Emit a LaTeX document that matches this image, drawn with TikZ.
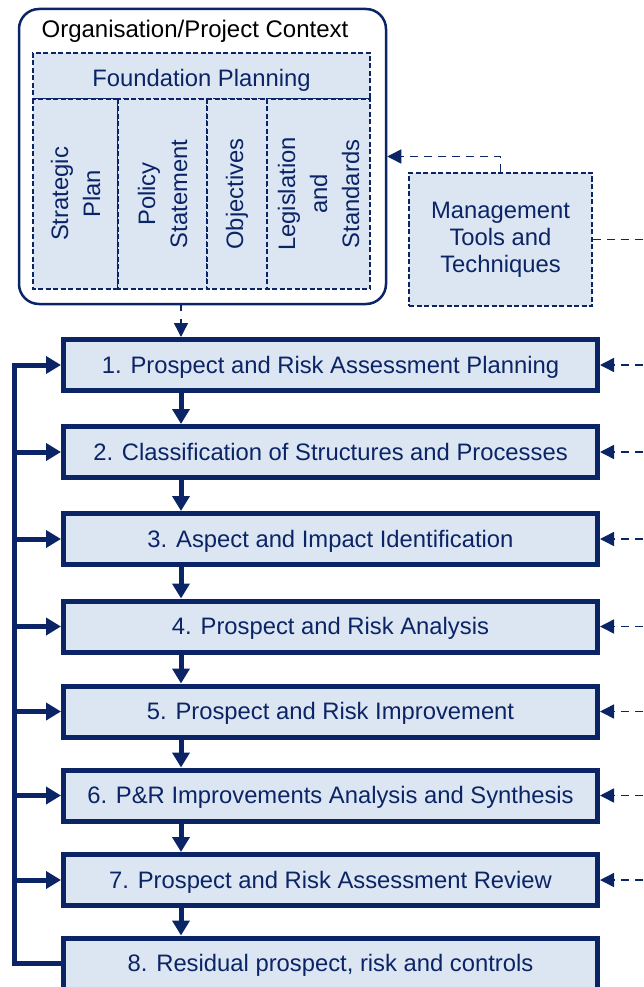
\documentclass[tikz,border=0pt]{standalone}
\usepackage{fontspec}
\setmainfont{Liberation Sans}
\usetikzlibrary{arrows.meta,positioning}
\definecolor{navy}{HTML}{0B2466}
\definecolor{paleblue}{HTML}{DCE6F2}

\begin{document}
\begin{tikzpicture}[x=1pt,y=-1pt,
	every node/.style={font=\fontsize{23.8}{27}\selectfont,text=navy},
	cell/.style={draw=navy,fill=paleblue,dash pattern=on 5pt off 2.5pt,line width=1.3pt,inner sep=0pt},
	vcell/.style={cell,rotate=90,align=center,font=\fontsize{23.8}{32}\selectfont},
	stage/.style={draw=navy,fill=paleblue,line width=5pt,minimum width=534pt,minimum height=51pt,inner sep=0pt,text height=16.5pt,text depth=0pt},
	flow/.style={navy,line width=5pt,-{Triangle[width=17pt,length=15pt]}},
	feed/.style={navy,dashed,dash pattern=on 8pt off 6pt,line width=1.5pt,-{Triangle[width=14pt,length=14pt]}}]
		\useasboundingbox (0,0) rectangle (643,987);
		\node[draw=navy,line width=2.5pt,rounded corners=20pt,minimum width=367pt,minimum height=295pt] (org) at (202.5,156.5) {};
		\node[anchor=base,text=black,font=\fontsize{24}{27}\selectfont] (ctx) at (195,38) {Organisation/Project Context};
		\node[cell,minimum width=337pt,minimum height=46pt,text height=22pt,text depth=0pt] (found) at (201.5,76) {Foundation Planning};
		\node[vcell,minimum width=190pt,minimum height=85pt] (plan) at (75.5,194) {Strategic\\Plan};
		\node[vcell,minimum width=190pt,minimum height=89pt] (policy) at (162.5,194) {Policy\\Statement};
		\node[vcell,minimum width=190pt,minimum height=60pt] (obj) at (237,194) {Objectives};
		\node[vcell,minimum width=190pt,minimum height=103pt] (legis) at (318.5,194) {Legislation\\and\\Standards};
		\node[cell,align=center,minimum width=183pt,minimum height=133pt] (tools) at (500.5,239.5) {Management\\Tools and\\Techniques};
		\node[stage] (s1) at (330.5,365) {1. Prospect and Risk Assessment Planning};
		\node[stage] (s2) at (330.5,452) {2. Classification of Structures and Processes};
		\node[stage] (s3) at (330.5,539) {3. Aspect and Impact Identification};
		\node[stage] (s4) at (330.5,626.5) {4. Prospect and Risk Analysis};
		\node[stage] (s5) at (330.5,711.5) {5. Prospect and Risk Improvement};
		\node[stage] (s6) at (330.5,795.5) {6. P\&R Improvements Analysis and Synthesis};
		\node[stage] (s7) at (330.5,880) {7. Prospect and Risk Assessment Review};
		\node[stage] (s8) at (330.5,963.5) {8. Residual prospect, risk and controls};
		\coordinate (col) at (181,0);
		\coordinate (loop) at (14,0);
		\coordinate (rim) at (643,0);
		% top part
		\draw[feed] (tools.north) |- (org.east);
		\draw[feed,dash pattern=on 6pt off 8pt] (org.south -| col) -- (s1.north -| col);
		\draw[navy,dashed,dash pattern=on 8pt off 6pt,line width=1.5pt] (tools.east) -- (tools.east -| rim);
		% main chain
		\draw[flow] (s1.south -| col) -- (s2.north -| col);
		\draw[flow] (s2.south -| col) -- (s3.north -| col);
		\draw[flow] (s3.south -| col) -- (s4.north -| col);
		\draw[flow] (s4.south -| col) -- (s5.north -| col);
		\draw[flow] (s5.south -| col) -- (s6.north -| col);
		\draw[flow] (s6.south -| col) -- (s7.north -| col);
		\draw[flow] (s7.south -| col) -- (s8.north -| col);
		% feedback loop
		\draw[flow] (s8.west) -- (s8.west -| loop) -- (s1.west -| loop) -- (s1.west);
		\draw[flow] (s2.west -| loop) -- (s2.west);
		\draw[flow] (s3.west -| loop) -- (s3.west);
		\draw[flow] (s4.west -| loop) -- (s4.west);
		\draw[flow] (s5.west -| loop) -- (s5.west);
		\draw[flow] (s6.west -| loop) -- (s6.west);
		\draw[flow] (s7.west -| loop) -- (s7.west);
		% tools input
		\draw[feed] (s1.east -| rim) -- (s1.east);
		\draw[feed] (s2.east -| rim) -- (s2.east);
		\draw[feed] (s3.east -| rim) -- (s3.east);
		\draw[feed] (s4.east -| rim) -- (s4.east);
		\draw[feed] (s5.east -| rim) -- (s5.east);
		\draw[feed] (s6.east -| rim) -- (s6.east);
		\draw[feed] (s7.east -| rim) -- (s7.east);
\end{tikzpicture}
\end{document}
